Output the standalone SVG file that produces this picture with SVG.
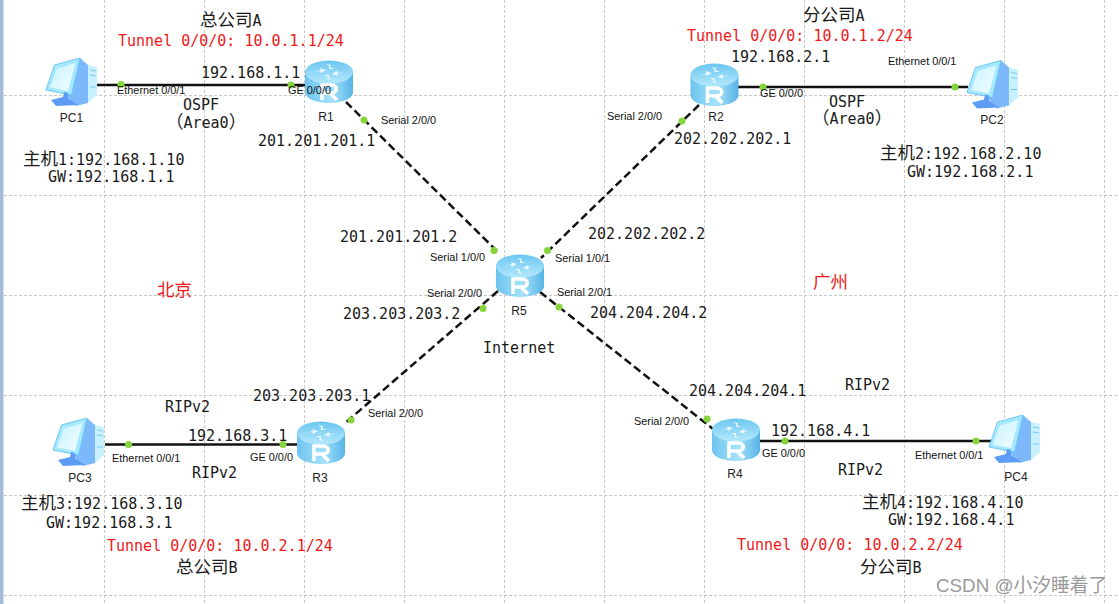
<svg xmlns="http://www.w3.org/2000/svg" xmlns:xlink="http://www.w3.org/1999/xlink" width="1119" height="604" viewBox="0 0 1119 604">
<style>
.g{stroke:#c8c8c8;stroke-width:1;stroke-dasharray:3 2;fill:none}
.s{stroke:#111;stroke-width:2.5;fill:none}
.d{stroke:#111;stroke-width:2.5;stroke-dasharray:8 4;fill:none}
.p{fill:#86d53c}
text{font-family:"DejaVu Sans Mono","Noto Sans CJK SC",monospace;font-size:15px;fill:#1a1a1a}
.r{fill:#f01818}
.l{font-family:"Liberation Sans",Arial,sans-serif;font-size:10.900px;fill:#111}
.n{font-family:"Liberation Sans",Arial,sans-serif;font-size:12px;fill:#222}
.c{font-family:"Noto Sans CJK SC",sans-serif;font-size:17.500px}
.h{text-anchor:middle}
tspan.z{font-family:"Noto Sans CJK SC",sans-serif;font-size:17.500px}
tspan.m{font-family:"DejaVu Sans Mono",monospace;font-size:15px}
</style>
<defs>
<linearGradient id="rb" x1="0" x2="1" y1="0" y2="0"><stop offset="0" stop-color="#6cc4ee"/><stop offset=".55" stop-color="#a6e2fb"/><stop offset="1" stop-color="#55b4e6"/></linearGradient>
<linearGradient id="rt" x1="0" x2="0" y1="0" y2="1"><stop offset="0" stop-color="#6cc6f0"/><stop offset="1" stop-color="#b4e8fc"/></linearGradient>
<linearGradient id="sc" x1="0" x2="1" y1="0" y2="1"><stop offset="0" stop-color="#c6f3ff"/><stop offset="1" stop-color="#f4fdff"/></linearGradient>
<g id="router">
<path d="M-24-9V11C-24 18-12 22 0 22S24 18 24 11V-9Z" fill="url(#rb)"/>
<ellipse cx="0" cy="-9" rx="24" ry="11.500" fill="url(#rt)"/>
<path d="M-15-9l7-2-1-2 6 2-5 3-1-2zM15-9l-7 2 1 2-6-2 5-3 1 2zM-3-17l5 1-1 2 4 2-5 0 0-3zM3-1l-5-1 1-2-4-2 5 0 0 3z" fill="#e8f8ff"/>
<path d="M-7 19V4H2C9 4 9 12 2 12H-7M1 12L8 19" fill="none" stroke="#fff" stroke-width="3.600"/>
</g>
<g id="pc">
<path d="M27-22L36-20V8L27 16Z" fill="#c8f1ff"/>
<path d="M29-17l6 1M29-12l6 1M29 0l6 0" stroke="#7cc8ee" fill="none"/>
<path d="M19-29L27-22V16L15 19 6 9Z" fill="#7db8fb"/>
<path d="M-6.500-22L19-29 10.500 8-15 3Z" fill="#a5e8ff" stroke="#6cc8f4"/>
<path d="M-4-18.500L14.500-24 7 4-11 .5Z" fill="url(#sc)"/>
<path d="M-10 13L2 10 3 5 7 6 7 11 17 18-5 19Z" fill="#5d9cf5"/>
</g>
</defs>
<rect width="1119" height="604" fill="#fff"/>
<rect width="3.500" height="604" fill="#a3bdd4"/>
<g id="grid">
<path class="g" d="M104.500 0V604M204.500 0V604M304.500 0V604M404.500 0V604M504.500 0V604M604.500 0V604M704.500 0V604M804.500 0V604M904.500 0V604M1004.500 0V604M1104.500 0V604M4 95.500H1119M4 195.500H1119M4 295.500H1119M4 395.500H1119M4 495.500H1119M4 595.500H1119"/>
</g>
<g id="connectors">
<path class="s" d="M97 85H305"/>
<path class="s" d="M738 87H968"/>
<path class="s" d="M105 444.500H297"/>
<path class="s" d="M760 441H1000"/>
<path class="d" d="M346 102L499 253"/>
<path class="d" d="M699 105L541 258"/>
<path class="d" d="M498 291L344 424"/>
<path class="d" d="M540 292L713 429"/>
<g class="p">
<circle cx="121" cy="84.500" r="3.500"/><circle cx="291" cy="85" r="3.500"/>
<circle cx="364" cy="120" r="3.500"/><circle cx="494" cy="250.500" r="3.500"/>
<circle cx="682" cy="121" r="3.500"/><circle cx="547.500" cy="250.500" r="3.500"/>
<circle cx="763" cy="87" r="3.500"/><circle cx="955" cy="87" r="3.500"/>
<circle cx="483" cy="308.500" r="3.500"/><circle cx="351" cy="420" r="3.500"/>
<circle cx="559" cy="307" r="3.500"/><circle cx="707" cy="419" r="3.500"/>
<circle cx="128.500" cy="444.500" r="3.500"/><circle cx="283" cy="444.500" r="3.500"/>
<circle cx="785" cy="441" r="3.500"/><circle cx="976" cy="441" r="3.500"/>
</g>
</g>
<g id="PC1"><use xlink:href="#pc" x="61" y="87"/><text class="n h" x="71.500" y="122">PC1</text></g>
<g id="R1"><use xlink:href="#router" x="329" y="81"/><text class="n h" x="326" y="121">R1</text></g>
<g id="R2"><use xlink:href="#router" x="714.500" y="84"/><text class="n h" x="716" y="121">R2</text></g>
<g id="PC2"><use xlink:href="#pc" x="982" y="89.500"/><text class="n h" x="992" y="124">PC2</text></g>
<g id="R5"><use xlink:href="#router" x="520" y="275"/><text class="n h" x="519" y="315">R5</text></g>
<g id="PC3"><use xlink:href="#pc" x="68" y="447"/><text class="n h" x="80" y="482">PC3</text></g>
<g id="R3"><use xlink:href="#router" x="321" y="442"/><text class="n h" x="320" y="482">R3</text></g>
<g id="R4"><use xlink:href="#router" x="736" y="439"/><text class="n h" x="735" y="478">R4</text></g>
<g id="PC4"><use xlink:href="#pc" x="1004" y="444"/><text class="n h" x="1016" y="481">PC4</text></g>
<g id="labels">
<text class="l" x="117" y="94">Ethernet 0/0/1</text>
<text class="l" x="288" y="94">GE 0/0/0</text>
<text class="l" x="381" y="124">Serial 2/0/0</text>
<text class="l" x="607" y="120">Serial 2/0/0</text>
<text class="l" x="760" y="97">GE 0/0/0</text>
<text class="l" x="888" y="65">Ethernet 0/0/1</text>
<text class="l" x="430" y="261">Serial 1/0/0</text>
<text class="l" x="555" y="262">Serial 1/0/1</text>
<text class="l" x="427" y="297">Serial 2/0/0</text>
<text class="l" x="557" y="296">Serial 2/0/1</text>
<text class="l" x="368" y="417">Serial 2/0/0</text>
<text class="l" x="634" y="425">Serial 2/0/0</text>
<text class="l" x="112" y="462">Ethernet 0/0/1</text>
<text class="l" x="250" y="461">GE 0/0/0</text>
<text class="l" x="762" y="457">GE 0/0/0</text>
<text class="l" x="915" y="459">Ethernet 0/0/1</text>
<text x="201" y="78">192.168.1.1</text>
<text x="731" y="62">192.168.2.1</text>
<text x="258" y="146">201.201.201.1</text>
<text x="674" y="144">202.202.202.1</text>
<text x="340" y="242">201.201.201.2</text>
<text x="588" y="239">202.202.202.2</text>
<text x="343" y="319">203.203.203.2</text>
<text x="590" y="318">204.204.204.2</text>
<text x="253" y="401">203.203.203.1</text>
<text x="689" y="396">204.204.204.1</text>
<text x="188" y="441">192.168.3.1</text>
<text x="771" y="436">192.168.4.1</text>
<text x="483" y="353">Internet</text>
<text x="183" y="110">OSPF</text>
<text x="166" y="128"><tspan class="z">（</tspan>Area0<tspan class="z">）</tspan></text>
<text x="829" y="107">OSPF</text>
<text x="812" y="124"><tspan class="z">（</tspan>Area0<tspan class="z">）</tspan></text>
<text x="165" y="412">RIPv2</text>
<text x="192" y="478">RIPv2</text>
<text x="845" y="390">RIPv2</text>
<text x="838" y="475">RIPv2</text>
<text x="23" y="165"><tspan class="z">主机</tspan>1:192.168.1.10</text>
<text x="48" y="182">GW:192.168.1.1</text>
<text x="880" y="159"><tspan class="z">主机</tspan>2:192.168.2.10</text>
<text x="907" y="177">GW:192.168.2.1</text>
<text x="21" y="509"><tspan class="z">主机</tspan>3:192.168.3.10</text>
<text x="46" y="528">GW:192.168.3.1</text>
<text x="862" y="508"><tspan class="z">主机</tspan>4:192.168.4.10</text>
<text x="888" y="525">GW:192.168.4.1</text>
<text class="r" x="118" y="45.500">Tunnel 0/0/0: 10.0.1.1/24</text>
<text class="r" x="687" y="40.500">Tunnel 0/0/0: 10.0.1.2/24</text>
<text class="r" x="107" y="551">Tunnel 0/0/0: 10.0.2.1/24</text>
<text class="r" x="737" y="550">Tunnel 0/0/0: 10.0.2.2/24</text>
<text class="c" x="200" y="26">总公司<tspan class="m">A</tspan></text>
<text class="c" x="803" y="21">分公司<tspan class="m">A</tspan></text>
<text class="c" x="176" y="573">总公司<tspan class="m">B</tspan></text>
<text class="c" x="860" y="573">分公司<tspan class="m">B</tspan></text>
<text class="c r" x="157" y="296">北京</text>
<text class="c r" x="813" y="288">广州</text>
<text x="936" y="592" style="font-family:'Liberation Sans','Noto Sans CJK SC',sans-serif;font-size:18.800px;fill:#9a9a9a">CSDN @小汐睡着了</text>
</g>
</svg>
